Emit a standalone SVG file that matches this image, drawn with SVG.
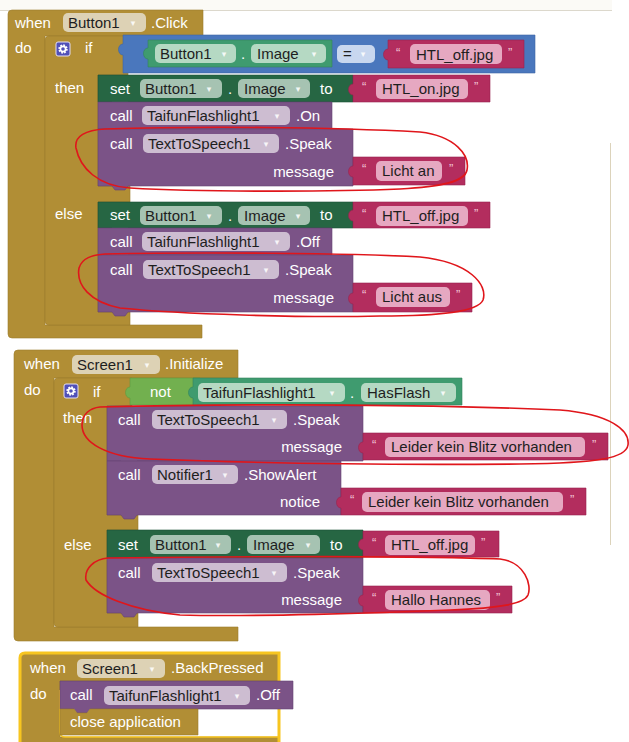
<svg xmlns="http://www.w3.org/2000/svg" width="629" height="742" viewBox="0 0 629 742">
<style>
.gold{fill:#B18E35;stroke:#9c7c2c;stroke-width:.6}
.purple{fill:#7b5387;stroke:#664372;stroke-width:.6}
.dgreen{fill:#266643;stroke:#1d5236;stroke-width:.6}
.teal{fill:#3f9b6f;stroke:#33845d;stroke-width:.6}
.blue{fill:#4a77bd;stroke:#3c65a4;stroke-width:.6}
.lgreen{fill:#72b04f;stroke:#5f9a40;stroke-width:.6}
.str{fill:#b32d5e;stroke:#99234e;stroke-width:.6}
.t{font-family:"Liberation Sans",Arial,sans-serif;font-size:15px;fill:#fff}
.pt{font-family:"Liberation Sans",Arial,sans-serif;font-size:15px;fill:#1e1e1e}
.end{text-anchor:end}
.pg{fill:#ddd2b5}.pp{fill:#cdbdd1}.pdg{fill:#a6c3b2}.pte{fill:#b5d9c3}.pst{fill:#e6a8c1}.pbl{fill:#c8d7ef}
.dd{font-family:"DejaVu Sans",sans-serif;font-size:9px;fill:#fff;opacity:.85;text-anchor:middle}
.q{font-family:"Liberation Sans",Arial,sans-serif;font-size:13px;fill:#f2c3d5}
.red{fill:none;stroke:#e0161b;stroke-width:1.6}
.gearbox{fill:#5050b8;stroke:#e4def2;stroke-width:1}
</style>
<defs>
<g id="gear">
<rect class="gearbox" x="0" y="0" width="14" height="14" rx="2"/>
<circle cx="7" cy="7" r="3.6" fill="none" stroke="#fff" stroke-width="2.2" stroke-dasharray="1.6 1.2"/>
<circle cx="7" cy="7" r="2.6" fill="none" stroke="#fff" stroke-width="1.6"/>
</g>
</defs>
<rect x="0" y="0" width="629" height="742" fill="#ffffff"/>
<rect x="0" y="0" width="612" height="10" fill="#fbfaf6"/>
<line x1="0" y1="10.5" x2="612" y2="10.5" stroke="#dcd8cc" stroke-width="1"/>
<line x1="610.5" y1="143" x2="610.5" y2="545" stroke="#dcd3bb" stroke-width="1"/>

<g id="evt-button1-click">
<path class="gold" d="M8,14 Q8,10 12,10 H203 V36 H45 V325 H202 V338 H12 Q8,338 8,334 Z"/>
<text class="t" x="15" y="28">when</text>
<rect class="pg" x="63" y="13" width="83" height="19" rx="5"/>
<text class="pt" x="68" y="28">Button1</text><text class="dd" x="133" y="26">▾</text>
<text class="t" x="151" y="28">.Click</text>
<text class="t" x="15" y="53">do</text>
</g>

<g id="if1">
<path class="gold" d="M45,40 Q45,36 49,36 H128 V75 H98 V186 H130 V202 H98 V312 H130 V325 H49 Q45,325 45,321 Z"/>
<use href="#gear" x="56" y="42"/>
<text class="t" x="85" y="53">if</text>
<text class="t" x="55" y="93">then</text>
<text class="t" x="55" y="219">else</text>
</g>

<g id="compare1">
<path class="blue" d="M123,35 H535 V73 H123 V55 c-6,0 -6,-11 0,-11 Z"/>
<path class="teal" d="M148,40 H332 V67 H148 V59 c-6,0 -6,-11 0,-11 Z"/>
<rect class="pte" x="155" y="44" width="81" height="19" rx="5"/>
<text class="pt" x="160" y="59">Button1</text><text class="dd" x="224" y="57">▾</text>
<text class="t" x="241" y="59">.</text>
<rect class="pte" x="251" y="44" width="75" height="19" rx="5"/>
<text class="pt" x="257" y="59">Image</text><text class="dd" x="314" y="57">▾</text>
<rect class="pbl" x="337" y="45" width="38" height="18" rx="5"/>
<text class="pt" x="343" y="59">=</text><text class="dd" x="363" y="57">▾</text>
<path class="str" d="M388,40 H524 V68 H388 V60 c-6,0 -6,-11 0,-11 Z"/>
<text class="q" x="396" y="57">“</text>
<rect class="pst" x="410" y="44" width="92" height="20" rx="5"/>
<text class="pt" x="416" y="59.5">HTL_off.jpg</text>
<text class="q" x="508" y="57">”</text>
</g>

<g id="set1">
<path class="dgreen" d="M98,75 H353 V102 H128 l-3,4 h-10 l-3,-4 H98 Z"/>
<text class="t" x="110" y="94">set</text>
<rect class="pdg" x="140" y="79" width="82" height="19" rx="5"/>
<text class="pt" x="145" y="94">Button1</text><text class="dd" x="209" y="92">▾</text>
<text class="t" x="228" y="94">.</text>
<rect class="pdg" x="238" y="79" width="72" height="19" rx="5"/>
<text class="pt" x="244" y="94">Image</text><text class="dd" x="298" y="92">▾</text>
<text class="t" x="320" y="94">to</text>
<path class="str" d="M353,75 H490 V102 H353 V95 c-6,0 -6,-11 0,-11 Z"/>
<text class="q" x="362" y="91">“</text>
<rect class="pst" x="376" y="79" width="92" height="20" rx="5"/>
<text class="pt" x="382" y="94">HTL_on.jpg</text>
<text class="q" x="474" y="91">”</text>
</g>

<g id="call-on">
<path class="purple" d="M98,102 H332 V129 H128 l-3,4 h-10 l-3,-4 H98 Z"/>
<text class="t" x="110" y="121">call</text>
<rect class="pp" x="142" y="106" width="148" height="19" rx="5"/>
<text class="pt" x="147" y="121">TaifunFlashlight1</text><text class="dd" x="277" y="119">▾</text>
<text class="t" x="296" y="121">.On</text>
</g>

<g id="speak1">
<path class="purple" d="M98,129 H353 V186 H128 l-3,4 h-10 l-3,-4 H98 Z"/>
<text class="t" x="110" y="149">call</text>
<rect class="pp" x="143" y="134" width="136" height="19" rx="5"/>
<text class="pt" x="148" y="149">TextToSpeech1</text><text class="dd" x="266" y="147">▾</text>
<text class="t" x="285" y="149">.Speak</text>
<text class="t end" x="334" y="177">message</text>
<path class="str" d="M353,157 H465 V185 H353 V177 c-6,0 -6,-11 0,-11 Z"/>
<text class="q" x="362" y="173">“</text>
<rect class="pst" x="376" y="161" width="66" height="20" rx="5"/>
<text class="pt" x="382" y="176">Licht an</text>
<text class="q" x="449" y="173">”</text>
</g>

<g id="set2">
<path class="dgreen" d="M98,202 H353 V228 H128 l-3,4 h-10 l-3,-4 H98 Z"/>
<text class="t" x="110" y="220">set</text>
<rect class="pdg" x="140" y="206" width="82" height="19" rx="5"/>
<text class="pt" x="145" y="221">Button1</text><text class="dd" x="209" y="219">▾</text>
<text class="t" x="228" y="221">.</text>
<rect class="pdg" x="238" y="206" width="72" height="19" rx="5"/>
<text class="pt" x="244" y="221">Image</text><text class="dd" x="298" y="219">▾</text>
<text class="t" x="320" y="220">to</text>
<path class="str" d="M353,202 H490 V228 H353 V221 c-6,0 -6,-11 0,-11 Z"/>
<text class="q" x="362" y="218">“</text>
<rect class="pst" x="376" y="206" width="92" height="20" rx="5"/>
<text class="pt" x="382" y="221">HTL_off.jpg</text>
<text class="q" x="474" y="218">”</text>
</g>

<g id="call-off">
<path class="purple" d="M98,228 H332 V255 H128 l-3,4 h-10 l-3,-4 H98 Z"/>
<text class="t" x="110" y="247">call</text>
<rect class="pp" x="142" y="232" width="148" height="19" rx="5"/>
<text class="pt" x="147" y="247">TaifunFlashlight1</text><text class="dd" x="277" y="245">▾</text>
<text class="t" x="296" y="247">.Off</text>
</g>

<g id="speak2">
<path class="purple" d="M98,255 H353 V312 H128 l-3,4 h-10 l-3,-4 H98 Z"/>
<text class="t" x="110" y="275">call</text>
<rect class="pp" x="143" y="260" width="136" height="19" rx="5"/>
<text class="pt" x="148" y="275">TextToSpeech1</text><text class="dd" x="266" y="273">▾</text>
<text class="t" x="285" y="275">.Speak</text>
<text class="t end" x="334" y="303">message</text>
<path class="str" d="M353,283 H472 V312 H353 V304 c-6,0 -6,-11 0,-11 Z"/>
<text class="q" x="362" y="299">“</text>
<rect class="pst" x="376" y="287" width="74" height="20" rx="5"/>
<text class="pt" x="382" y="302">Licht aus</text>
<text class="q" x="456" y="299">”</text>
</g>

<g id="evt-screen1-initialize">
<path class="gold" d="M14,354 Q14,350 18,350 H238 V378 H54 V627 H238 V641 H18 Q14,641 14,637 Z"/>
<text class="t" x="24" y="369">when</text>
<rect class="pg" x="72" y="355" width="88" height="19" rx="5"/>
<text class="pt" x="77" y="370">Screen1</text><text class="dd" x="147" y="368">▾</text>
<text class="t" x="165" y="369">.Initialize</text>
<text class="t" x="24" y="395">do</text>
</g>

<g id="if2">
<path class="gold" d="M54,382 Q54,378 58,378 H132 V406 H107 V515 H138 V530 H107 V613 H138 V627 H58 Q54,627 54,623 Z"/>
<use href="#gear" x="64" y="384"/>
<text class="t" x="93" y="397">if</text>
<text class="t" x="63" y="423">then</text>
<text class="t" x="64" y="550">else</text>
</g>

<g id="not-hasflash">
<path class="lgreen" d="M130,378 H200 V405 H130 V398 c-6,0 -6,-11 0,-11 Z"/>
<text class="t" x="150" y="397">not</text>
<path class="teal" d="M193,378 H462 V405 H193 V398 c-6,0 -6,-11 0,-11 Z"/>
<rect class="pte" x="198" y="383" width="147" height="19" rx="5"/>
<text class="pt" x="203" y="398">TaifunFlashlight1</text><text class="dd" x="332" y="396">▾</text>
<text class="t" x="350" y="398">.</text>
<rect class="pte" x="361" y="383" width="95" height="19" rx="5"/>
<text class="pt" x="367" y="398">HasFlash</text><text class="dd" x="443" y="396">▾</text>
</g>

<g id="speak3">
<path class="purple" d="M107,406 H363 V461 H137 l-3,4 h-10 l-3,-4 H107 Z"/>
<text class="t" x="118" y="425">call</text>
<rect class="pp" x="152" y="410" width="135" height="19" rx="5"/>
<text class="pt" x="157" y="425">TextToSpeech1</text><text class="dd" x="274" y="423">▾</text>
<text class="t" x="293" y="425">.Speak</text>
<text class="t end" x="342" y="452">message</text>
<path class="str" d="M363,433 H608 V460 H363 V453 c-6,0 -6,-11 0,-11 Z"/>
<text class="q" x="372" y="449">“</text>
<rect class="pst" x="385" y="437" width="200" height="20" rx="5"/>
<text class="pt" x="391" y="452">Leider kein Blitz vorhanden</text>
<text class="q" x="592" y="449">”</text>
</g>

<g id="notifier">
<path class="purple" d="M107,461 H341 V515 H137 l-3,4 h-10 l-3,-4 H107 Z"/>
<text class="t" x="118" y="480">call</text>
<rect class="pp" x="152" y="465" width="86" height="19" rx="5"/>
<text class="pt" x="157" y="480">Notifier1</text><text class="dd" x="225" y="478">▾</text>
<text class="t" x="244" y="480">.ShowAlert</text>
<text class="t end" x="320" y="507">notice</text>
<path class="str" d="M341,488 H586 V515 H341 V508 c-6,0 -6,-11 0,-11 Z"/>
<text class="q" x="350" y="504">“</text>
<rect class="pst" x="362" y="492" width="201" height="20" rx="5"/>
<text class="pt" x="368" y="507">Leider kein Blitz vorhanden</text>
<text class="q" x="570" y="504">”</text>
</g>

<g id="set3">
<path class="dgreen" d="M107,530 H363 V558 H137 l-3,4 h-10 l-3,-4 H107 Z"/>
<text class="t" x="118" y="550">set</text>
<rect class="pdg" x="150" y="535" width="81" height="19" rx="5"/>
<text class="pt" x="155" y="550">Button1</text><text class="dd" x="218" y="548">▾</text>
<text class="t" x="237" y="550">.</text>
<rect class="pdg" x="247" y="535" width="73" height="19" rx="5"/>
<text class="pt" x="253" y="550">Image</text><text class="dd" x="308" y="548">▾</text>
<text class="t" x="330" y="550">to</text>
<path class="str" d="M363,531 H499 V557 H363 V550 c-6,0 -6,-11 0,-11 Z"/>
<text class="q" x="372" y="547">“</text>
<rect class="pst" x="385" y="535" width="90" height="20" rx="5"/>
<text class="pt" x="391" y="550">HTL_off.jpg</text>
<text class="q" x="481" y="547">”</text>
</g>

<g id="speak4">
<path class="purple" d="M107,558 H363 V613 H137 l-3,4 h-10 l-3,-4 H107 Z"/>
<text class="t" x="118" y="578">call</text>
<rect class="pp" x="152" y="563" width="135" height="19" rx="5"/>
<text class="pt" x="157" y="578">TextToSpeech1</text><text class="dd" x="274" y="576">▾</text>
<text class="t" x="293" y="578">.Speak</text>
<text class="t end" x="342" y="605">message</text>
<path class="str" d="M363,586 H512 V613 H363 V606 c-6,0 -6,-11 0,-11 Z"/>
<text class="q" x="372" y="602">“</text>
<rect class="pst" x="385" y="590" width="105" height="20" rx="5"/>
<text class="pt" x="391" y="605">Hallo Hannes</text>
<text class="q" x="496" y="602">”</text>
</g>

<g id="evt-screen1-backpressed">
<path class="gold" d="M20,658 Q20,653 25,653 H279 V681 H60 V737 H279 V745 H20 Z"/>
<path d="M20,745 V658 Q20,653 25,653 H279 V745" fill="none" stroke="#f7c520" stroke-width="3"/>
<path d="M60,690 V732 Q60,737 65,737 H279" fill="none" stroke="#f7c520" stroke-width="1.5"/>
<text class="t" x="30" y="673">when</text>
<rect class="pg" x="77" y="659" width="88" height="19" rx="5"/>
<text class="pt" x="82" y="674">Screen1</text><text class="dd" x="152" y="672">▾</text>
<text class="t" x="171" y="673">.BackPressed</text>
<text class="t" x="30" y="699">do</text>
</g>

<g id="call-off2">
<path class="purple" d="M60,681 H293 V709 H90 l-3,4 h-10 l-3,-4 H60 Z"/>
<text class="t" x="70" y="700">call</text>
<rect class="pp" x="104" y="686" width="146" height="19" rx="5"/>
<text class="pt" x="109" y="701">TaifunFlashlight1</text><text class="dd" x="237" y="699">▾</text>
<text class="t" x="256" y="700">.Off</text>
</g>

<g id="close-app">
<path class="gold" d="M60,709 H74 l3,4 h10 l3,-4 H198 V735 H60 Z"/>
<text class="t" x="70" y="727">close application</text>
</g>

<g id="connectors">
<path class="red" d="M105,129 C200,126 330,127 420,132 C455,136 470,155 467,170 C465,182 440,187 400,189 C330,192 200,192 130,188 C98,186 80,168 76,148 C74,136 86,130 105,129 Z"/>
<path class="red" d="M105,254 C200,252 350,253 420,257 C470,262 488,285 483,300 C478,312 440,316 380,316 C300,318 180,314 120,308 C90,302 76,285 79,268 C82,258 92,255 105,254 Z"/>
<path class="red" d="M100,407 C250,403 450,405 560,410 C610,414 630,430 628,445 C626,458 600,463 520,464 C400,465 250,463 150,459 C105,457 82,442 82,425 C82,414 90,408 100,407 Z"/>
<path class="red" d="M108,558 C250,556 430,556 500,559 C525,562 532,585 528,595 C524,604 500,608 450,610 C380,613 250,617 180,615 C130,610 95,595 86,580 C84,568 95,559 108,558 Z"/>
</g>
</svg>
